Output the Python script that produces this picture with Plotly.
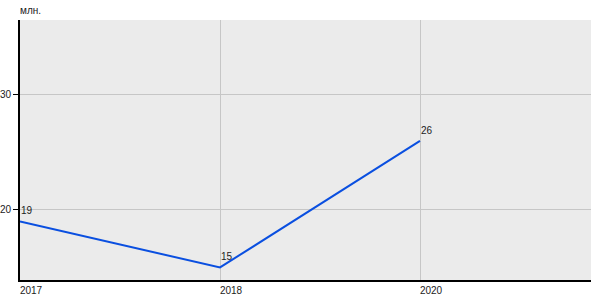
import plotly.graph_objects as go

years = ["2017", "2018", "2020"]
values = [19, 15, 26]
y_ticks = [20, 30]
unit_label = "млн."

x_pos = list(range(len(years)))

fig = go.Figure()
fig.add_trace(go.Scatter(
    x=x_pos, y=values, mode="lines",
    line=dict(color="#0a4fe0", width=2),
    cliponaxis=False, hoverinfo="skip",
))

annotations = [dict(
    text=str(v), x=xp, y=v, xref="x", yref="y",
    xanchor="left", yanchor="bottom", xshift=-1, yshift=3,
    showarrow=False, font=dict(size=10, color="#222"),
) for xp, v in zip(x_pos, values)]

annotations.append(dict(
    text=unit_label, xref="paper", yref="paper", x=0, y=1,
    xanchor="left", yanchor="bottom", xshift=-2, yshift=2, showarrow=False,
    font=dict(size=10, color="#222"),
))

fig.update_layout(
    width=600, height=300,
    margin=dict(l=20, r=9, t=20, b=20),
    paper_bgcolor="white", plot_bgcolor="#ebebeb",
    showlegend=False,
    font=dict(family="Liberation Sans, Arial", size=10, color="#222"),
    xaxis=dict(
        range=[0, 2.855], tickvals=x_pos, ticktext=years,
        showgrid=True, gridcolor="#c6c6c6", gridwidth=1,
        showline=True, linecolor="black", linewidth=2,
        ticks="", ticklabelshift=11, zeroline=False,
        automargin=False, fixedrange=True,
    ),
    yaxis=dict(
        range=[13.91, 36.52], tickvals=y_ticks,
        showgrid=True, gridcolor="#c6c6c6", gridwidth=1,
        showline=True, linecolor="black", linewidth=2,
        ticks="outside", ticklen=5, tickcolor="black", zeroline=False,
        automargin=False, fixedrange=True,
    ),
    annotations=annotations,
)

fig.write_html("out.html")
